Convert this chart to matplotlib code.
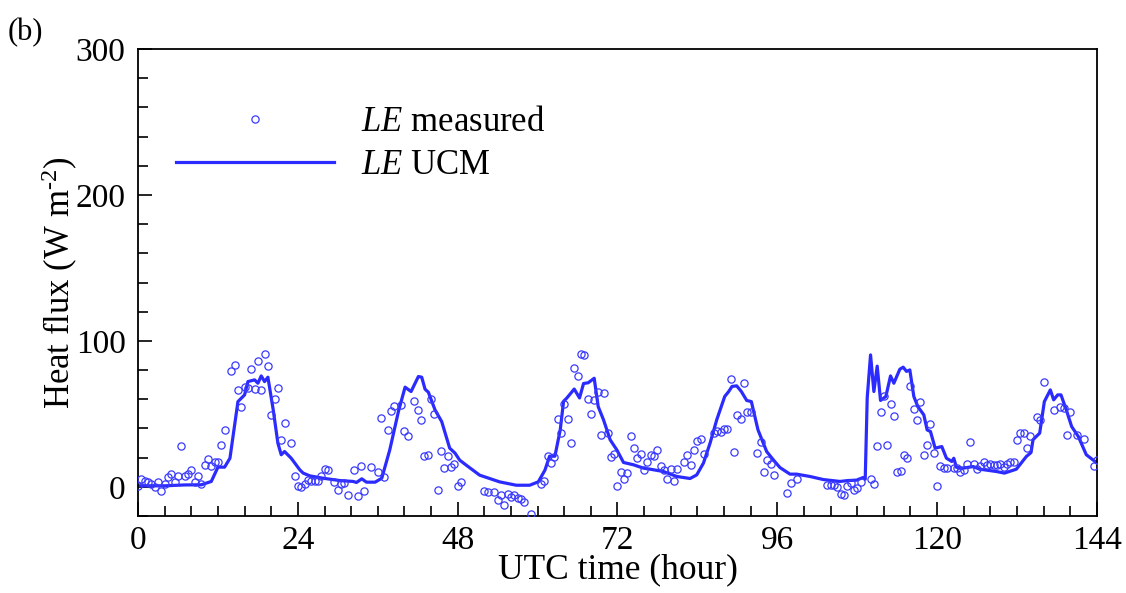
import matplotlib
matplotlib.use("Agg")
import matplotlib.pyplot as plt
from matplotlib.ticker import MultipleLocator

plt.rcParams["font.family"] = ["Liberation Serif", "DejaVu Serif"]
plt.rcParams["mathtext.fontset"] = "custom"
plt.rcParams["mathtext.rm"] = "Liberation Serif"
plt.rcParams["mathtext.it"] = "Liberation Serif:italic"

# measured latent heat flux (half-hourly, gaps where no data)
meas_hour = [
    0, 0.5, 1, 1.5, 2, 2.5, 3, 3.5, 4, 4.5, 5, 5.5, 6, 6.5, 7, 7.5, 8, 8.5, 9, 9.5,
    10, 10.5, 11, 11.5, 12, 12.5, 13, 14, 14.5, 15, 15.5, 16, 16.5, 17, 17.5, 18,
    18.5, 19, 19.5, 20, 20.5, 21, 21.5, 22, 23, 23.5, 24,
    24.5, 25, 25.5, 26, 26.5, 27, 27.5, 28, 28.5, 29.5, 30, 30.5, 31, 31.5, 32.5,
    33, 33.5, 34, 35, 36, 36.5, 37, 37.5, 38, 38.5, 39.5, 40, 40.5, 41.5, 42,
    42.5, 43, 43.5, 44, 44.5, 45, 45.5, 46, 46.5, 47, 47.5, 48,
    48.5, 52, 52.5, 53.5, 54, 54.5, 55, 55.5, 56, 56.5, 57, 57.5, 58, 59, 60.5,
    61, 61.5, 62, 62.5, 63, 63.5, 64, 64.5, 65, 65.5, 66, 66.5, 67, 67.5, 68,
    68.5, 69, 69.5, 70, 70.5, 71, 71.5, 72,
    72.5, 73, 73.5, 74, 74.5, 75, 75.5, 76, 76.5, 77, 77.5, 78, 78.5, 79, 79.5,
    80, 80.5, 81, 82, 82.5, 83, 83.5, 84, 84.5, 85, 86.5, 87, 87.5, 88, 88.5,
    89, 89.5, 90, 90.5, 91, 91.5, 92, 93, 93.5, 94, 94.5, 95, 95.5,
    97.5, 98, 99, 103.5, 104, 104.5, 105, 105.5, 106, 106.5, 107, 107.5, 108,
    108.5, 110, 110.5, 111, 111.5, 112, 112.5, 113, 113.5, 114, 114.5, 115,
    115.5, 116, 116.5, 117, 117.5, 118, 118.5, 119, 119.5, 120,
    120.5, 121, 121.5, 122.5, 123, 123.5, 124, 124.5, 125, 125.5, 126, 126.5,
    127, 127.5, 128, 128.5, 129, 129.5, 130, 130.5, 131, 131.5, 132, 132.5, 133,
    133.5, 134, 135, 135.5, 136, 137.5, 138.5, 139, 139.5, 140, 141, 142,
    143.5, 144,
]
meas_flux = [
    0.7, 5.5, 4.3, 3.0, 1.8, 0.2, 3.0, -2.7, 1.8, 6.4, 8.7, 3.0, 7.5, 27.9, 7.1, 8.7, 11.6, 3.0, 7.1, 1.8,
    14.8, 19.2, 14.4, 16.7, 17.1, 29.0, 39.0, 79.5, 83.6, 66.2, 54.8, 68.3, 67.6, 80.4, 66.7, 86.1,
    66.4, 91.1, 83.1, 49.5, 60.5, 67.6, 32.4, 43.4, 29.7, 7.5, 0.7,
    0.2, 2.0, 4.8, 4.3, 4.3, 4.3, 7.5, 12.1, 11.2, 3.4, -2.3, 2.0, 2.5, -5.9, 11.6,
    -6.4, 14.6, -2.7, 13.7, 10.5, 47.3, 6.4, 38.8, 51.8, 55.5, 55.9, 38.6, 34.5, 58.9, 52.7,
    45.9, 21.2, 22.0, 60.5, 50.0, -2.0, 24.7, 12.6, 20.8, 13.9, 15.8, 0.7,
    3.4, -2.7, -3.2, -3.7, -9.1, -5.7, -12.6, -5.0, -6.8, -5.9, -7.8, -8.4, -10.7, -18.7, 2.0,
    4.3, 21.4, 16.4, 20.3, 46.3, 37.2, 56.8, 46.8, 30.1, 81.3, 75.6, 91.1, 90.4, 60.3, 50.2,
    59.4, 65.1, 35.4, 64.6, 37.2, 20.3, 22.6, 0.7,
    10.5, 5.5, 9.2, 34.5, 26.5, 20.1, 22.6, 11.2, 17.1, 22.1, 21.0, 24.9, 14.6, 11.6, 5.5,
    12.3, 4.3, 12.1, 16.7, 21.7, 15.1, 25.1, 31.5, 32.9, 22.6, 37.2, 38.6, 37.9, 39.5, 39.5,
    73.7, 24.0, 49.3, 46.3, 71.2, 51.4, 51.6, 23.5, 30.8, 10.3, 18.7, 15.5, 8.0,
    -4.3, 2.3, 5.5, 1.1, 1.1, 1.1, 0.2, -4.8, -5.3, 0.5, 2.7, -2.0, -0.9,
    3.2, 5.5, 2.0, 28.3, 51.6, 62.3, 29.0, 56.8, 48.6, 10.2, 10.7, 22.1,
    19.9, 69.2, 53.2, 45.7, 57.8, 22.1, 29.0, 43.0, 23.3, 0.7,
    14.4, 12.8, 12.8, 13.2, 12.8, 10.5, 11.2, 15.8, 30.4, 15.8, 12.1, 14.0,
    16.7, 15.0, 15.8, 15.1, 15.0, 15.8, 13.7, 15.8, 16.7, 17.1, 32.3, 37.2, 37.2,
    26.5, 34.9, 47.9, 45.7, 71.5, 52.7, 55.0, 54.0, 35.2, 51.6, 35.8, 33.0,
    14.4, 18.1,
]

# urban canopy model output
ucm_hour = [
    0, 4, 7, 9.5, 11, 12, 13, 13.8, 15, 16, 16.5, 17.5, 18, 18.5, 19, 19.5, 20.3,
    21, 21.5, 22, 23, 24.3, 24.8, 25.8, 27.8, 30.3, 32.3, 32.8, 33.6, 34.3, 35.6,
    36.6, 37.8, 39.1, 40.1, 41, 42.1, 42.6, 43.1, 43.6, 44.6, 45.6, 46.8, 47.6,
    48.3, 49.3, 51.3, 54.3, 56.8, 58.8, 60.1, 61.1, 61.8, 62.6, 63.4, 63.9, 64.4,
    65.5, 66.3, 66.9, 67.6, 68.5, 69.1, 69.9, 70.9, 71.9, 72.9, 74.4, 75.9, 76.9,
    78.9, 80.9, 82.9, 83.9, 84.9, 85.9, 86.9, 88.1, 88.7, 89.2, 89.9, 90.6, 91.4,
    92.1, 93.1, 94.4, 95.4, 96.4, 97.9, 98.9, 100.9, 102.9, 105.4, 106.6, 107.9,
    108.9, 109.2, 109.5, 110, 110.5, 111, 111.5, 112.3, 113, 113.5, 114.4, 114.9,
    115.4, 115.9, 116.5, 117.1, 118, 118.5, 119, 119.7, 120.7, 121.4, 122.2,
    122.5, 122.9, 123.9, 125.4, 126.4, 128.9, 130.1, 131.9, 133.4, 134.1, 134.4,
    135.4, 136.1, 137, 137.5, 138.1, 138.6, 139.4, 140.2, 141.2, 142.4, 143.7, 144,
]
ucm_flux = [
    0.7, 0.7, 1.3, 1.4, 3.7, 13.5, 13.5, 19.6, 58.4, 63.0, 72.1, 73.3, 71.0, 76.0, 72.1, 75.1, 52.7,
    29.9, 22.0, 24.2, 19.6, 11.6, 9.4, 7.5, 5.9, 4.3, 3.7, 3.0, 5.5, 3.2, 3.2,
    5.9, 25.3, 51.6, 68.3, 65.3, 75.6, 75.1, 66.9, 64.8, 52.7, 44.7, 26.5, 23.1,
    18.3, 14.8, 8.0, 3.4, 1.1, 1.1, 3.4, 11.4, 21.0, 21.0, 39.0, 58.6, 60.9,
    67.0, 60.9, 70.8, 71.3, 74.4, 55.0, 45.9, 32.2, 25.3, 16.7, 15.1, 12.8, 12.1,
    10.5, 7.1, 5.7, 8.2, 16.2, 29.9, 45.9, 61.9, 65.3, 68.8, 69.2, 65.3, 59.2,
    58.4, 39.0, 24.2, 18.5, 13.2, 8.7, 8.7, 7.1, 5.0, 3.7, 4.3, 4.6,
    6.4, 5.2, 61.0, 90.4, 65.3, 82.7, 59.2, 61.9, 76.0, 71.0, 80.6, 82.0,
    79.1, 80.1, 61.9, 55.0, 49.3, 39.0, 37.9, 26.5, 27.6, 19.6, 17.4,
    19.6, 13.4, 12.8, 13.9, 12.1, 10.5, 9.4, 12.1, 20.8, 23.5, 32.3,
    36.8, 58.4, 66.4, 59.6, 63.0, 63.0, 52.7, 41.3, 34.5, 22.0, 17.4, 17.0,
]

fig = plt.figure(figsize=(11.26, 5.93), dpi=100)
ax = fig.add_axes([0.1226, 0.1298, 0.8516, 0.7876])

ax.plot(meas_hour, meas_flux, linestyle="none", marker="o", markersize=5.2,
        markerfacecolor="none", markeredgecolor="#3a3aff", markeredgewidth=0.9,
        label=r"$LE$ measured", zorder=3)
ax.plot(ucm_hour, ucm_flux, color="#2b2bff", linewidth=2.3,
        label=r"$LE$ UCM", zorder=2)

ax.set_xlim(0, 144)
ax.set_ylim(-20, 300)
ax.xaxis.set_major_locator(MultipleLocator(24))
ax.xaxis.set_minor_locator(MultipleLocator(4))
ax.yaxis.set_major_locator(MultipleLocator(100))
ax.yaxis.set_minor_locator(MultipleLocator(20))
ax.tick_params(which="both", direction="in", labelsize=24, width=1.2)
ax.tick_params(which="major", length=10)
ax.tick_params(which="minor", length=7)
ax.tick_params(axis="x", pad=7)
ax.tick_params(axis="y", pad=9)
for s in ax.spines.values():
    s.set_linewidth(1.3)

ax.set_xlabel("UTC time (hour)", fontsize=25.5, labelpad=-2)
ax.set_ylabel(r"Heat flux (W m$^{\text{-2}}$)", fontsize=25, labelpad=-3)

ax.legend(loc="upper left", bbox_to_anchor=(0.04, 0.878), frameon=False,
          fontsize=25, numpoints=1, handlelength=4.55, handletextpad=0.78,
          labelspacing=0.3, borderpad=0, borderaxespad=0)

fig.text(0.007, 0.932, "(b)", fontsize=22)

fig.savefig("out.png", dpi=100)
